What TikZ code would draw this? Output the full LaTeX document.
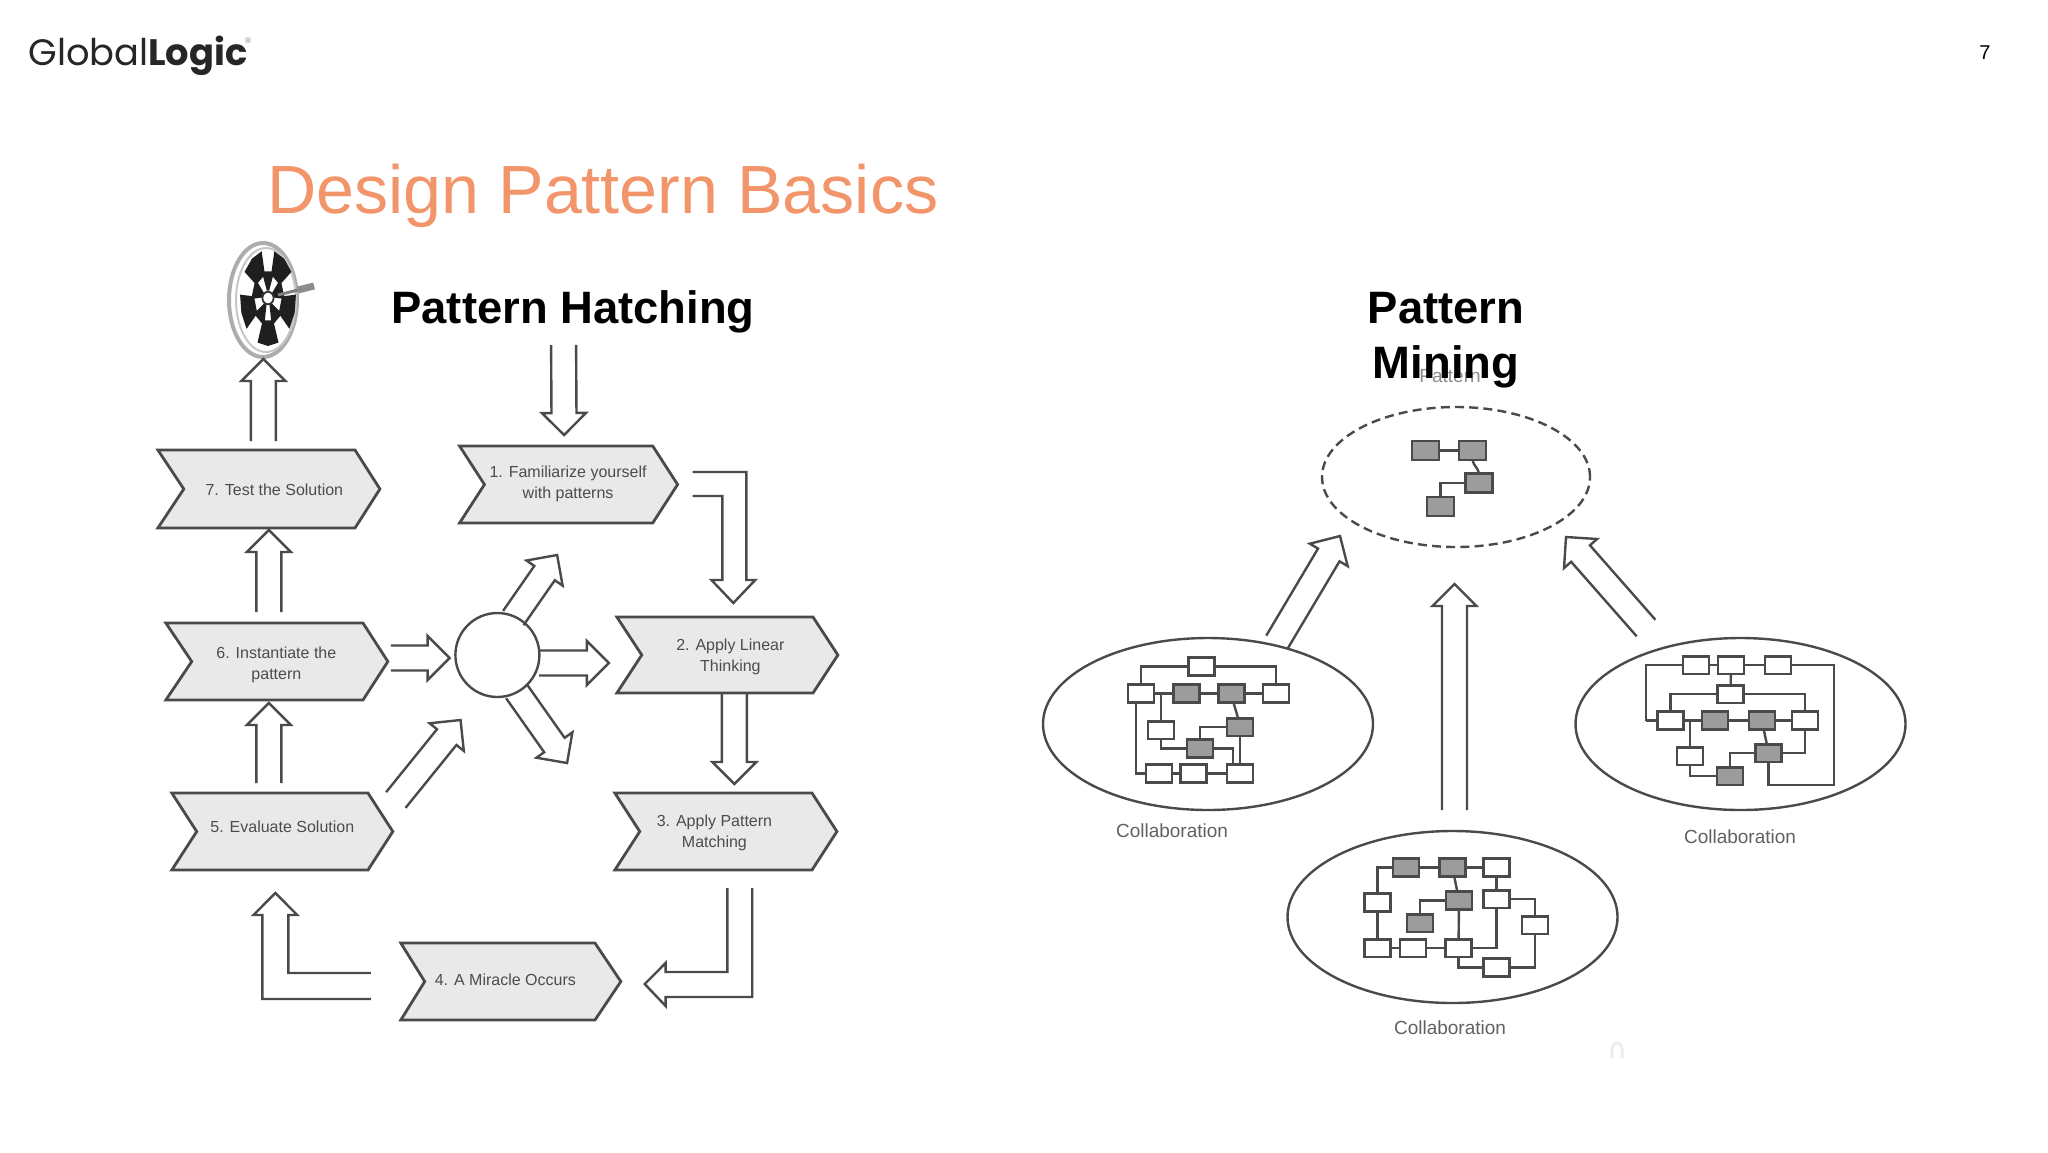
\documentclass[tikz,border=0pt]{standalone}
\usepackage{fontspec}
\setmainfont{Liberation Sans}
\newfontfamily\logofont{Poppins}
\usetikzlibrary{calc,shapes.geometric}
\definecolor{inkline}{HTML}{4A4A4A}
\definecolor{chevfill}{HTML}{E9E9E9}
\definecolor{greybox}{HTML}{9C9C9C}
\definecolor{titleorange}{HTML}{F2956A}
\tikzset{
  chevron/.style={draw=inkline,fill=chevfill,line width=1.4pt,line join=miter},
  chevtext/.style={align=center,text=black!70,font=\fontsize{8}{10.5}\selectfont,inner sep=0pt},
  blockline/.style={draw=inkline,line width=1.2pt,line join=miter},
  wbox/.style={draw=inkline,line width=1.3pt,fill=white,minimum width=13pt,minimum height=8.8pt,inner sep=0pt,outer sep=0pt},
  gbox/.style={wbox,fill=greybox},
  link/.style={draw=inkline,line width=1.2pt},
  collab/.style={ellipse,draw=inkline,line width=1.2pt,inner sep=0pt,outer sep=0pt,minimum width=165pt,minimum height=86pt},
  caplabel/.style={text=black!62,font=\fontsize{9.5}{11}\selectfont,inner sep=0pt},
  heading/.style={font=\bfseries\fontsize{22.7}{27.5}\selectfont,align=center,text=black,inner sep=0pt},
}
\newcommand{\chev}[6]{% left notch shoulder tip top bottom
  \path[chevron] (#1,#5) -- (#3,#5) -- (#4,{(#5+#6)/2}) -- (#3,#6) -- (#1,#6) -- (#2,{(#5+#6)/2}) -- cycle;}
\newcommand{\blockarrow}[2]{%
  \coordinate (hb) at ($(#2)!11pt!(#1)$);
  \draw[blockline] ($(#1)!6.25pt!90:(#2)$) -- ($(hb)!6.25pt!-90:(#1)$) -- ($(hb)!11pt!-90:(#1)$) -- (#2)
     -- ($(hb)!11pt!90:(#1)$) -- ($(hb)!6.25pt!90:(#1)$) -- ($(#1)!6.25pt!-90:(#2)$);}
\begin{document}
\begin{tikzpicture}[x=0.5pt,y=-0.5pt]
\useasboundingbox (0,0) rectangle (2048,1152);
\fill[white] (0,0) rectangle (2048,1152);
% header
\node[anchor=west,inner sep=0pt,font=\logofont\fontsize{18.4}{20}\selectfont,text=black!85] (logo) at (28,55.5) {Global\textbf{Logic}};
\node[inner sep=0pt,font=\fontsize{4}{5}\selectfont,text=black!50] (reg) at (248,41) {®};
\node[inner sep=0pt,font=\fontsize{10}{12}\selectfont] (pageno) at (1985,53) {7};
\node[anchor=west,inner sep=0pt,text=titleorange,font=\fontsize{34.1}{40}\selectfont] (title) at (267,196) {Design Pattern Basics};
\node[heading] (hatch) at (573,312) {Pattern Hatching};
\node[caplabel,text=black!45] (ghost) at (1450,376) {Pattern};
\node[heading] (mine) at (1446,340) {Pattern\\Mining};
% dartboard
\fill[white,draw=black!32,line width=2pt] (263,300) ellipse (34 and 57);
\draw[black!22,line width=1pt] (266,300) ellipse (30 and 52);
\begin{scope}[shift={(268,298)},x=14pt,y=24pt]
  \foreach \a in {55,125,198,342,270}
    \fill[black!88] ({.5*cos(\a-22)},{.5*sin(\a-22)}) -- ({cos(\a-22)},{sin(\a-22)}) -- ({cos(\a)},{sin(\a)}) -- ({cos(\a+22)},{sin(\a+22)}) -- ({.5*cos(\a+22)},{.5*sin(\a+22)}) -- cycle;
  \foreach \a in {90,160,20,235,305}
    \fill[black!88] ({.16*cos(\a-15)},{.16*sin(\a-15)}) -- ({.6*cos(\a-22)},{.6*sin(\a-22)}) -- ({.6*cos(\a+22)},{.6*sin(\a+22)}) -- ({.16*cos(\a+15)},{.16*sin(\a+15)}) -- cycle;
  \fill[white,draw=black!80,line width=.9pt] (0,0) ellipse (.2 and .13);
\end{scope}
\draw[black!50,line width=1.5pt] (278,295) -- (298,290);
\draw[black!45,line width=3.5pt] (298,290) -- (314,286);
% hatching diagram (horizontal scale)
\begin{scope}[x=0.4978pt,xshift=0.29pt]
\chev{158}{184}{356}{381}{450}{528}
\chev{461}{486}{655}{680}{446}{523}
\chev{166}{192}{364}{389}{623}{700}
\chev{619}{644}{816}{841}{617}{693}
\chev{172}{197}{369}{394}{793}{870}
\chev{617}{642}{815}{840}{793}{870}
\chev{402}{426}{597}{623}{943}{1020}
\node[chevtext] (s7) at (275,490) {7. Test the Solution};
\node[chevtext] (s1) at (570,484) {1. Familiarize yourself\\with patterns};
\node[chevtext] (s6) at (277,665) {6. Instantiate the\\pattern};
\node[chevtext] (s2) at (733,657) {2. Apply Linear\\Thinking};
\node[chevtext] (s5) at (283,827) {5. Evaluate Solution};
\node[chevtext] (s3) at (717,833) {3. Apply Pattern\\Matching};
\node[chevtext] (s4) at (507,980) {4. A Miracle Occurs};
\node[circle,draw=inkline,line width=1.2pt,fill=white,minimum size=42pt,inner sep=0pt,outer sep=0pt] (hub) at (499,655) {};
\coordinate (a0s) at (565.5,345); \coordinate (a0e) at (566,435);
\coordinate (a7s) at (264,441);   \coordinate (a7e) at (264,359);
\coordinate (a6s) at (269.5,612); \coordinate (a6e) at (269.5,530);
\coordinate (a5s) at (269.5,783); \coordinate (a5e) at (269.5,703);
\coordinate (h6s) at (392,658);   \coordinate (h6e) at (451,658);
\coordinate (h2s) at (541,663);   \coordinate (h2e) at (611,663);
\coordinate (hus) at (515,618);   \coordinate (hue) at (559,555);
\coordinate (hds) at (518,691);   \coordinate (hde) at (569,763);
\coordinate (h5s) at (397,800);   \coordinate (h5e) at (462,720);
\coordinate (b23s) at (737,693);  \coordinate (b23e) at (737,784);
\foreach \p/\q in {a0s/a0e,a7s/a7e,a6s/a6e,a5s/a5e,h6s/h6e,h2s/h2e,hus/hue,hds/hde,h5s/h5e,b23s/b23e}
  {\blockarrow{\p}{\q}}
\coordinate (c1a) at (695,472); \coordinate (c1b) at (695,496); \coordinate (c1t) at (736,603);
\draw[blockline] (c1a) -- (749,472) -- (749,580) -- (758,580) -- (c1t) -- (714,580) -- (725,580) -- (725,496) -- (c1b);
\coordinate (c3a) at (730,888); \coordinate (c3b) at (755,888); \coordinate (c3t) at (647,984);
\draw[blockline] (c3a) -- (730,972) -- (668,972) -- (668,963) -- (c3t) -- (668,1006) -- (668,997) -- (755,997) -- (c3b);
\coordinate (c4a) at (372,973); \coordinate (c4b) at (372,999); \coordinate (c4t) at (276,893);
\draw[blockline] (c4a) -- (289,973) -- (289,915) -- (298,915) -- (c4t) -- (254,915) -- (263,915) -- (263,999) -- (c4b);
\end{scope}
% mining arrows
\coordinate (mls) at (1277,642);  \coordinate (mle) at (1340,536);
\coordinate (mrs) at (1646,628);  \coordinate (mre) at (1566,537);
\coordinate (mms) at (1454.5,810);\coordinate (mme) at (1454.5,584);
\foreach \p/\q in {mls/mle,mrs/mre,mms/mme} {\blockarrow{\p}{\q}}
% pattern ellipse
\node[ellipse,draw=inkline,line width=1.2pt,dash pattern=on 4.5pt off 2.6pt,minimum width=134pt,minimum height=70pt,inner sep=0pt] (patt) at (1456,477) {};
\node[gbox,minimum width=13.5pt,minimum height=9.5pt] (pa) at (1425.5,450.5) {};
\node[gbox,minimum width=13.5pt,minimum height=9.5pt] (pb) at (1472.5,450.5) {};
\node[gbox,minimum width=13.5pt,minimum height=9.5pt] (pc) at (1479,483) {};
\node[gbox,minimum width=13.5pt,minimum height=9.5pt] (pd) at (1440.5,506.5) {};
\draw[link] (pa) -- (pb);
\draw[link] (pb.south) to[out=-80,in=100] (pc.north);
\draw[link] (pc.west) -| (pd.north);
% left collaboration
\node[collab] (cl) at (1208,724) {};
\node[caplabel] (lcl) at (1172,831) {Collaboration};
\draw[link] (1201.5,666.5) -| (1141,693.5);
\draw[link] (1201.5,666.5) -| (1276,693.5);
\draw[link] (1141,693.5) -- (1276,693.5);
\draw[link] (1161,693.5) -- (1161,730) |- (1200,748.5);
\draw[link] (1200,748.5) -| (1233,773.5);
\draw[link] (1200,748.5) |- (1240,727);
\draw[link] (1240,727) -- (1240,773.5);
\draw[link] (1231.5,693.5) to[out=-80,in=100] (1240,727);
\draw[link] (1136,693.5) |- (1240,773.5);
\node[wbox] (lt) at (1201.5,666.5) {};
\node[wbox] (la) at (1141,693.5) {};
\node[gbox] (lb) at (1186.5,693.5) {};
\node[gbox] (lc) at (1231.5,693.5) {};
\node[wbox] (ld) at (1276,693.5) {};
\node[wbox] (le) at (1161,730) {};
\node[gbox] (lf) at (1240,727) {};
\node[gbox] (lg) at (1200,748.5) {};
\node[wbox] (lh) at (1159,773.5) {};
\node[wbox] (li) at (1193.5,773.5) {};
\node[wbox] (lj) at (1240,773.5) {};
% right collaboration
\node[collab] (cr) at (1740.5,724) {};
\node[caplabel] (lcr) at (1740,837) {Collaboration};
\coordinate (rframe) at (1834,785);
\draw[link] (1696,665) -- (1778,665);
\draw[link] (1731,665) -- (1730.5,694);
\draw[link] (1730.5,694) -| (1670.5,720.5);
\draw[link] (1730.5,694) -| (1805,720.5);
\draw[link] (1646,720.5) -- (1805,720.5);
\draw[link] (1646,720.5) |- (1696,665);
\draw[link] (1778,665) -| (rframe) -| (1768.5,753);
\draw[link] (1690,720.5) -- (1690,756) |- (1730,776);
\draw[link] (1730,776) |- (1768.5,753);
\draw[link] (1768.5,753) -| (1805,720.5);
\draw[link] (1762,720.5) to[out=-80,in=100] (1768.5,753);
\node[wbox] (ra) at (1696,665) {};
\node[wbox] (rb) at (1731,665) {};
\node[wbox] (rc) at (1778,665) {};
\node[wbox] (rd) at (1730.5,694) {};
\node[wbox] (re) at (1670.5,720.5) {};
\node[gbox] (rf) at (1715,720.5) {};
\node[gbox] (rg) at (1762,720.5) {};
\node[wbox] (rh) at (1805,720.5) {};
\node[wbox] (ri) at (1690,756) {};
\node[gbox] (rj) at (1768.5,753) {};
\node[gbox] (rk) at (1730,776) {};
% bottom collaboration
\node[collab] (cb) at (1452.5,917) {};
\node[caplabel] (lcb) at (1450,1028) {Collaboration};
\draw[link] (1406,867.5) -| (1377.5,948);
\draw[link] (1377.5,948) -- (1458.5,948);
\draw[link] (1406,867.5) -- (1496.5,867.5);
\draw[link] (1496.5,867.5) -- (1496.5,899);
\draw[link] (1496.5,899) -| (1535,925);
\draw[link] (1535,925) |- (1496.5,967.5);
\draw[link] (1496.5,967.5) -| (1458.5,948);
\draw[link] (1458.5,948) -| (1496.5,899);
\draw[link] (1459,900.5) -| (1420,923);
\draw[link] (1459,900.5) -- (1458.5,948);
\draw[link] (1452.5,867.5) to[out=-80,in=100] (1459,900.5);
\node[gbox] (ba) at (1406,867.5) {};
\node[gbox] (bb) at (1452.5,867.5) {};
\node[wbox] (bc) at (1496.5,867.5) {};
\node[wbox] (bd) at (1377.5,902.5) {};
\node[gbox] (be) at (1459,900.5) {};
\node[wbox] (bf) at (1496.5,899) {};
\node[gbox] (bg) at (1420,923) {};
\node[wbox] (bh) at (1535,925) {};
\node[wbox] (bi) at (1377.5,948) {};
\node[wbox] (bj) at (1413,948) {};
\node[wbox] (bk) at (1458.5,948) {};
\node[wbox] (bl) at (1496.5,967.5) {};
% faint smudge below the bottom caption
\draw[black!7,line width=1.5pt] (1612,1058) -- (1612,1048) arc[start angle=180,end angle=360,radius=5] -- (1622,1058);
\end{tikzpicture}
\end{document}
